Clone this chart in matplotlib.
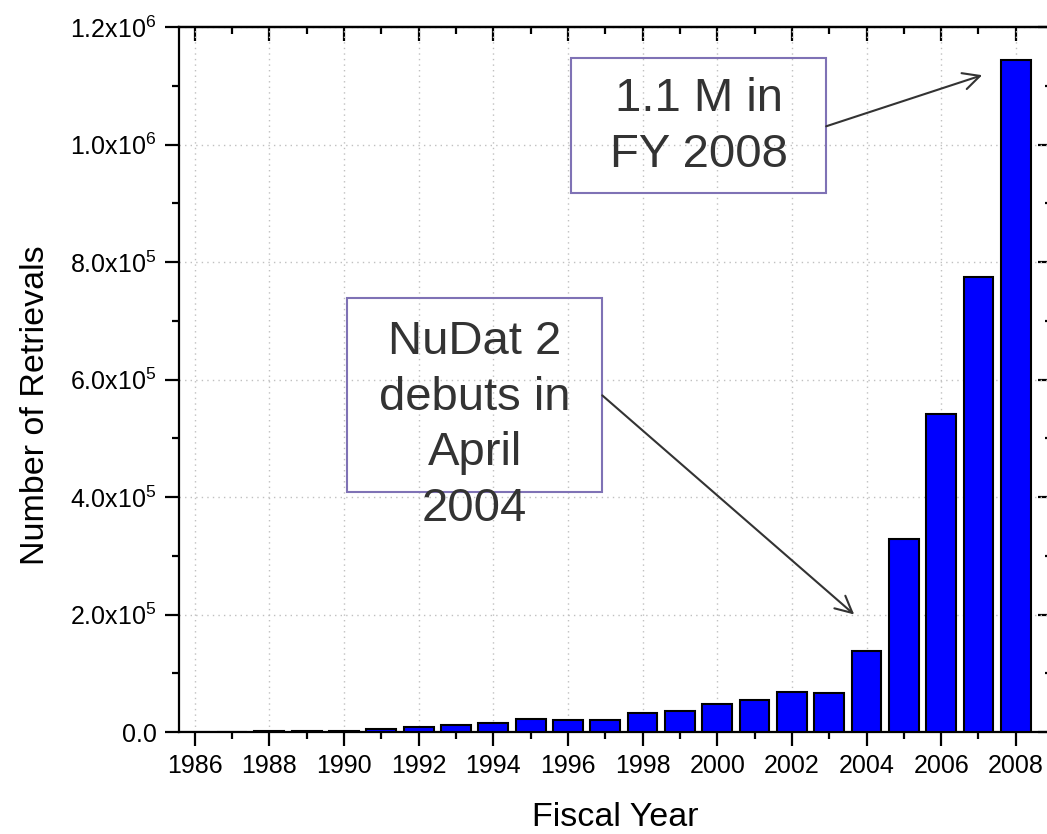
import matplotlib
matplotlib.use("Agg")
import matplotlib.pyplot as plt
from matplotlib.patches import Rectangle
from matplotlib.ticker import MultipleLocator

plt.rcParams['font.family'] = ['Liberation Sans', 'DejaVu Sans']
plt.rcParams['mathtext.fontset'] = 'custom'
plt.rcParams['mathtext.rm'] = 'Liberation Sans'

# retrievals per fiscal year
years = list(range(1986, 2009))
retrievals = [300, 500, 1000, 1500, 2500, 5000, 8000, 11500, 15500, 21500,
              20500, 20000, 32000, 36000, 47500, 54000, 67500, 66000,
              137500, 328000, 541000, 775000, 1143000]

year_ticks = list(range(1986, 2009, 2))
y_ticks = [0, 2e5, 4e5, 6e5, 8e5, 1e6, 1.2e6]
y_tick_labels = ['0.0', r'$\mathregular{2.0x10^{5}}$', r'$\mathregular{4.0x10^{5}}$',
                 r'$\mathregular{6.0x10^{5}}$', r'$\mathregular{8.0x10^{5}}$',
                 r'$\mathregular{1.0x10^{6}}$', r'$\mathregular{1.2x10^{6}}$']

fig = plt.figure(figsize=(10.47, 8.34), dpi=100)
ax = fig.add_axes([179 / 1047, 102 / 834, (1052 - 179) / 1047, 705 / 834])

ax.bar(years, retrievals, width=0.8, color='#0000ff', edgecolor='black',
       linewidth=1.5, zorder=3)

ax.set_xlim(1985.58, 2008.97)
ax.set_ylim(0, 1.2e6)
ax.set_xticks(year_ticks)
ax.xaxis.set_minor_locator(MultipleLocator(1))
ax.set_yticks(y_ticks)
ax.set_yticklabels(y_tick_labels)
ax.yaxis.set_minor_locator(MultipleLocator(1e5))

ax.grid(True, which='major', color='#c0c0c0', linestyle=(0, (1, 3)),
        linewidth=1, zorder=0)
ax.set_axisbelow(True)

for s in ax.spines.values():
    s.set_linewidth(1.6)

ax.tick_params(axis='both', which='major', length=10, width=1.6,
               labelsize=18, pad=6)
ax.tick_params(axis='both', which='minor', length=5, width=1.6)
ax.tick_params(axis='x', which='both', direction='out', top=False)
ax.tick_params(axis='y', which='both', direction='out', right=False)

# inward ticks on top and right
top = ax.secondary_xaxis('top')
top.set_xticks(year_ticks)
top.xaxis.set_minor_locator(MultipleLocator(1))
top.tick_params(which='both', direction='in', labeltop=False, width=1.6)
top.tick_params(which='major', length=10)
top.tick_params(which='minor', length=5)
top.spines['top'].set_linewidth(1.6)
right = ax.secondary_yaxis('right')
right.set_yticks(y_ticks)
right.yaxis.set_minor_locator(MultipleLocator(1e5))
right.tick_params(which='both', direction='in', labelright=False, width=1.6)
right.tick_params(which='major', length=10)
right.tick_params(which='minor', length=5)

ax.set_xlabel('Fiscal Year', fontsize=24.5, labelpad=17)
ax.set_ylabel('Number of Retrievals', fontsize=24.5)
ax.yaxis.set_label_coords(-0.147, 0.464)

box_color = '#7f72b5'
text_color = '#333333'

ax.add_patch(Rectangle((1996.07, 9.173e5), 6.85, 2.30e5, fill=False,
                       edgecolor=box_color, linewidth=1.5, zorder=5))
ax.add_patch(Rectangle((1990.07, 4.082e5), 6.85, 3.303e5, fill=False,
                       edgecolor=box_color, linewidth=1.5, zorder=5))

ax.text(1999.5, 1.03e6, '1.1 M in\nFY 2008', ha='center', va='center',
        fontsize=34, color=text_color, linespacing=1.34, zorder=6)
ax.text(1993.5, 5.22e5, 'NuDat 2\ndebuts in\nApril\n2004', ha='center',
        va='center', fontsize=34, color=text_color, linespacing=1.34, zorder=6)

arrow = dict(arrowstyle='->', color=text_color, lw=1.5, mutation_scale=30,
             shrinkA=0, shrinkB=0)
ax.annotate('', xy=(2007.1, 1.118e6), xytext=(2002.92, 1.031e6),
            arrowprops=arrow, zorder=6)
ax.annotate('', xy=(2003.67, 2.0e5), xytext=(1996.92, 5.73e5),
            arrowprops=arrow, zorder=6)

fig.savefig('out.png', dpi=100)
